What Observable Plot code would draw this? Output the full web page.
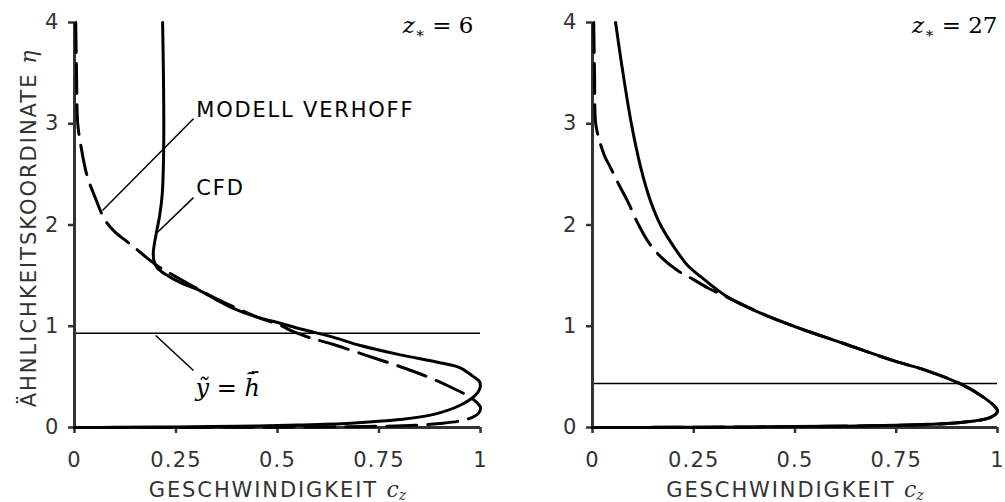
<!DOCTYPE html>
<html><head><meta charset="utf-8">
<script src="https://cdn.jsdelivr.net/npm/d3@7"></script>
<script src="https://cdn.jsdelivr.net/npm/@observablehq/plot@0.6"></script>
<style>
html,body{margin:0;padding:0;background:#fff;overflow:hidden}
#wrap{display:flex;width:1005px;height:502px}
svg{display:block}
svg text{letter-spacing:1.2px}
</style></head><body><div id="wrap"></div>
<script>
// ---- data ----
const xTicks = [0, 0.25, 0.5, 0.75, 1];
const xTickLabels = ["0", "0.25", "0.5", "0.75", "1"];
const yTicks = [0, 1, 2, 3, 4];
const yTickLabels = ["0", "1", "2", "3", "4"];

const cfd6 = [[0.217,4.0],[0.219,3.5],[0.220,3.0],[0.219,2.6],[0.216,2.3],[0.210,2.1],[0.203,1.95],[0.197,1.82],[0.194,1.72],[0.196,1.64],[0.203,1.58],[0.225,1.51],[0.261,1.43],[0.31,1.35],[0.35,1.26],[0.384,1.19],[0.45,1.09],[0.507,1.03],[0.56,0.97],[0.63,0.90],[0.704,0.81],[0.80,0.72],[0.90,0.64],[0.95,0.59],[0.98,0.51],[0.998,0.45],[0.998,0.38],[0.985,0.31],[0.95,0.22],[0.885,0.13],[0.80,0.078],[0.68,0.042],[0.55,0.024],[0.4,0.013],[0.25,0.006],[0.1,0.002],[0,0]];
const verhoff6 = [[0.003,4.0],[0.005,3.5],[0.008,3.0],[0.015,2.8],[0.03,2.5],[0.05,2.28],[0.075,2.05],[0.1,1.93],[0.125,1.85],[0.15,1.77],[0.18,1.67],[0.21,1.58],[0.245,1.5],[0.303,1.37],[0.35,1.27],[0.404,1.17],[0.45,1.09],[0.507,1.01],[0.532,0.96],[0.581,0.885],[0.638,0.82],[0.72,0.71],[0.803,0.6],[0.87,0.5],[0.926,0.4],[0.97,0.31],[0.99,0.25],[1.0,0.2],[0.995,0.14],[0.98,0.1],[0.95,0.065],[0.9,0.04],[0.84,0.022],[0.72,0.01],[0.5,0.003],[0,0]];
const cfd27 = [[0.057,4.0],[0.073,3.56],[0.096,3.0],[0.119,2.57],[0.143,2.24],[0.168,2.0],[0.205,1.76],[0.235,1.6],[0.267,1.49],[0.333,1.29],[0.415,1.13],[0.504,0.99],[0.62,0.83],[0.743,0.66],[0.827,0.56],[0.909,0.43],[0.965,0.30],[0.995,0.2],[1.0,0.16],[0.983,0.1],[0.909,0.05],[0.743,0.022],[0.58,0.012],[0.4,0.006],[0.2,0.002],[0,0]];
const verhoff27 = [[0.003,4.0],[0.005,3.5],[0.008,3.0],[0.016,2.85],[0.03,2.68],[0.044,2.57],[0.065,2.4],[0.086,2.24],[0.114,2.0],[0.14,1.82],[0.17,1.68],[0.21,1.55],[0.25,1.46],[0.284,1.38],[0.31,1.33],[0.383,1.19],[0.415,1.13],[0.504,0.99],[0.62,0.83],[0.743,0.66],[0.827,0.56],[0.909,0.43],[0.965,0.30],[0.995,0.2],[1.0,0.16],[0.983,0.1],[0.909,0.05],[0.743,0.022],[0.58,0.012],[0.4,0.006],[0.2,0.002],[0,0]];

const hLine6 = 0.93;
const hLine27 = 0.435;

const labels6 = [
  {x: 0.30, y: 3.07, key: "MODELL VERHOFF"},
  {x: 0.30, y: 2.30, key: "CFD"},
  {x: 0.298, y: 0.316, key: "@yh"}
];
const leaders6 = [
  {x1: 0.293, y1: 3.05, x2: 0.069, y2: 2.143},
  {x1: 0.293, y1: 2.27, x2: 0.204, y2: 1.926},
  {x1: 0.200, y1: 0.909, x2: 0.293, y2: 0.563}
];

// ---- rich text definitions ----
const SERIF = "DejaVu Serif";
const richMap = new Map([
  ["@xlabel", [{t: "GESCHWINDIGKEIT ", ls: 1.9}, {t: "c", f: SERIF, i: true, s: 22, ls: 0}, {t: "z", f: SERIF, i: true, s: 14, dy: 3, ls: 0}]],
  ["@ylabel", [{t: "ÄHNLICHKEITSKOORDINATE ", ls: 2.0}, {t: "η", f: SERIF, i: true, s: 22, ls: 0}]],
  ["MODELL VERHOFF", [{t: "MODELL VERHOFF", ls: 1.8}]],
  ["CFD", [{t: "CFD", ls: 1.8}]],
  ["@z6", [{t: "z", f: SERIF, i: true, s: 23, ls: 0}, {t: "∗", f: SERIF, s: 15, dy: 5, ls: 0}, {t: " = 6", f: SERIF, s: 23, ls: 0}]],
  ["@z27", [{t: "z", f: SERIF, i: true, s: 23, ls: 0}, {t: "∗", f: SERIF, s: 15, dy: 5, ls: 0}, {t: " = 27", f: SERIF, s: 23, ls: 0}]],
  ["@yh", [{t: "ỹ", f: SERIF, i: true, s: 24, ls: 0}, {t: " = ", f: SERIF, s: 24, ls: 0}, {t: "h\u0303", f: SERIF, i: true, s: 24, ls: 0}, {t: "\u00AF", f: SERIF, i: true, s: 24, ls: 0, dx: -13, dy: -7}]]
]);
function richify(svg) {
  d3.select(svg).selectAll("text").each(function() {
    const spec = richMap.get(this.textContent);
    if (!spec) return;
    const el = d3.select(this);
    el.text(null);
    let shift = 0;
    for (const p of spec) {
      const ts = el.append("tspan").text(p.t);
      if (p.f) ts.attr("font-family", p.f);
      if (p.i) ts.attr("font-style", "italic");
      if (p.s) ts.attr("font-size", p.s);
      if (p.ls != null) ts.attr("letter-spacing", p.ls);
      if (p.dx) ts.attr("dx", p.dx);
      const d = (p.dy || 0) - shift;
      if (d) ts.attr("dy", d);
      shift = p.dy || 0;
    }
  });
}

function panel({cfd, verhoff, h, zKey, zdx, width, marginLeft, marginRight, labels = [], leaders = [], yLabel}) {
  const fmtX = d => xTickLabels[xTicks.indexOf(d)];
  const fmtY = d => yTickLabels[yTicks.indexOf(d)];
  const marks = [
    Plot.ruleY([h], {stroke: "#000", strokeWidth: 1.5}),
    Plot.axisX(xTicks, {tickFormat: fmtX, tickSize: 6, tickPadding: 19, stroke: "#333", strokeWidth: 2.5, fill: "#333", label: null}),
    Plot.axisY(yTicks, {tickFormat: fmtY, tickSize: 6, tickPadding: 9, stroke: "#333", strokeWidth: 2.5, fill: "#333", label: null}),
    Plot.ruleX([0], {stroke: "#333", strokeWidth: 3}),
    Plot.ruleY([0], {stroke: "#333", strokeWidth: 3}),
    Plot.line(verhoff, {x: d => d[0], y: d => d[1], stroke: "#000", strokeWidth: 3, strokeDasharray: "30,11", curve: "catmull-rom"}),
    Plot.line(cfd, {x: d => d[0], y: d => d[1], stroke: "#000", strokeWidth: 3, curve: "catmull-rom"}),
    Plot.link(leaders, {x1: "x1", y1: "y1", x2: "x2", y2: "y2", stroke: "#000", strokeWidth: 1.5}),
    Plot.text(labels, {x: "x", y: "y", text: "key", textAnchor: "start", lineAnchor: "bottom", fill: "#000", fontSize: 21}),
    Plot.text([zKey], {x: () => 1, y: () => 4, text: d => d, textAnchor: "end", lineAnchor: "bottom", dx: zdx, dy: 10, fill: "#000", fontSize: 23}),
    Plot.text(["@xlabel"], {frameAnchor: "bottom", text: d => d, textAnchor: "middle", lineAnchor: "bottom", dy: 69, fill: "#333", fontSize: 21})
  ];
  if (yLabel) marks.push(Plot.text(["@ylabel"], {frameAnchor: "left", text: d => d, rotate: -90, textAnchor: "middle", lineAnchor: "bottom", dx: -39, dy: 4, fill: "#333", fontSize: 21}));
  const p = Plot.plot({
    width, height: 502, marginLeft, marginRight, marginTop: 22, marginBottom: 75,
    x: {domain: [0, 1]},
    y: {domain: [0, 4]},
    style: {fontFamily: "DejaVu Sans", fontSize: "21px", background: "#fff", overflow: "visible"},
    marks
  });
  richify(p);
  return p;
}

const wrap = document.getElementById("wrap");
wrap.appendChild(panel({cfd: cfd6, verhoff: verhoff6, h: hLine6, zKey: "@z6", zdx: -7, width: 510, marginLeft: 74, marginRight: 30, labels: labels6, leaders: leaders6, yLabel: true}));
wrap.appendChild(panel({cfd: cfd27, verhoff: verhoff27, h: hLine27, zKey: "@z27", zdx: 0, width: 495, marginLeft: 82, marginRight: 8}));
</script>
</body></html>
